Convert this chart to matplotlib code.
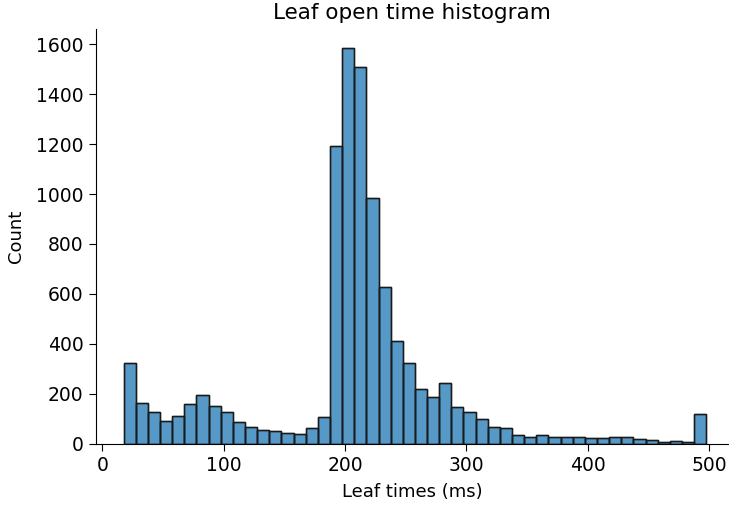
import matplotlib
matplotlib.use("Agg")
import matplotlib.pyplot as plt
import numpy as np

# histogram counts per 10 ms bin (first bin starts at ~17.6 ms)
bin_start = 17.6
bin_width = 10.0
counts = [325, 162, 126, 91, 111, 159, 195, 151, 126, 86,
          66, 56, 50, 42, 40, 62, 108, 1191, 1584, 1508,
          986, 628, 413, 322, 219, 188, 242, 145, 128, 99,
          66, 62, 35, 27, 34, 26, 26, 26, 22, 22,
          28, 28, 19, 14, 7, 11, 7, 118]

edges = bin_start + bin_width * np.arange(len(counts) + 1)

fig = plt.figure(figsize=(7.29, 5.09), dpi=100)
ax = fig.add_axes([95.5 / 729, 1 - 443.7 / 509, 1 - 95.5 / 729, (443.7 - 29) / 509])

ax.bar(edges[:-1], counts, width=bin_width, align="edge",
       color="#1f77b4", alpha=0.75, edgecolor="black", linewidth=1.0)
# redraw edges fully opaque
ax.bar(edges[:-1], counts, width=bin_width, align="edge",
       fill=False, edgecolor="#1a1a1a", linewidth=1.0)

ax.set_xlim(-5.6, 516.4)
ax.set_ylim(0, 1661)
ax.set_xticks([0, 100, 200, 300, 400, 500])
ax.set_yticks(range(0, 1601, 200))
ax.tick_params(labelsize=13.5, length=5)
ax.set_xlabel("Leaf times (ms)", fontsize=13, labelpad=6)
ax.set_ylabel("Count", fontsize=13, labelpad=8)
ax.set_title("Leaf open time histogram", fontsize=15.5, pad=7)
ax.spines["top"].set_visible(False)
ax.spines["right"].set_visible(False)

fig.savefig("out.png", dpi=100)
